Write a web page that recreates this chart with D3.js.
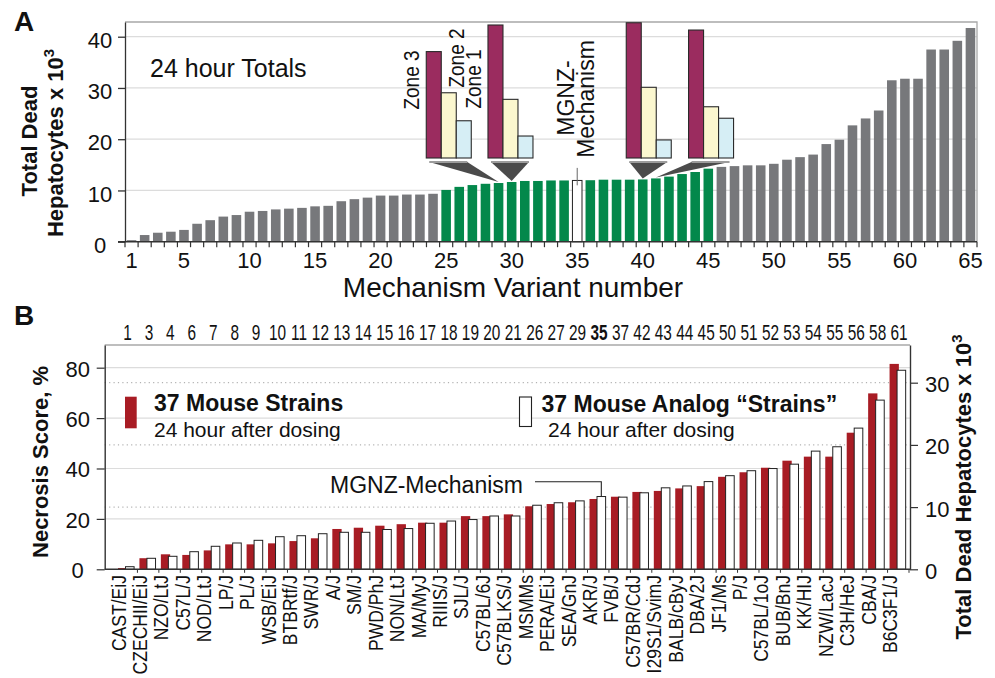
<!DOCTYPE html>
<html><head><meta charset="utf-8">
<script src="https://cdn.jsdelivr.net/npm/d3@7"></script>
<style>
body{margin:0;background:#fff}
svg text{font-family:"Liberation Sans",Arial,Helvetica,sans-serif;fill:#111}
</style>
</head><body>
<svg id="c" width="995" height="678"></svg>
<script>
// ---------- Panel A data ----------
const variantNumbers = d3.range(1, 66);
const variantTotals = [0.3,1.3,1.75,1.95,2.3,3.5,4.2,4.9,5.2,5.85,
  6.0,6.3,6.45,6.6,6.9,7.0,7.9,8.3,8.6,9.0,
  9.0,9.2,9.2,9.35,10.1,10.7,11.05,11.3,11.45,11.65,
  11.85,11.85,11.95,11.95,11.95,12.0,12.1,12.1,12.1,12.15,
  12.35,12.7,13.2,13.6,14.25,14.6,14.75,14.9,14.9,15.2,
  16.0,16.5,17.0,19.05,19.9,22.7,24.05,25.6,31.5,31.8,
  31.8,37.5,37.5,39.2,41.7];
const mechanismRange = [25, 45];
const mgnzVariant = 35;
const mgnzError = [11.0, 14.4];
const xTickLabelsA = [1,5,10,15,20,25,30,35,40,45,50,55,60,65];
const yTicksA = [0,10,20,30,40];

// Zone insets (relative cell-death per zone)
const insetVariants = [29, 30, 40, 41];
const zone3 = [76, 95, 96.6, 91.4];
const zone2 = [46.6, 41.9, 50.5, 36.6];
const zone1 = [26.6, 15.7, 12.9, 28.4];
const zoneNames = ["Zone 3", "Zone 2", "Zone 1"];

// ---------- Panel B data ----------
const strains = ["CAST/EiJ","CZECHII/EiJ","NZO/LtJ","C57L/J","NOD/LtJ","LP/J","PL/J","WSB/EiJ","BTBRtf/J","SWR/J",
  "A/J","SM/J","PWD/PhJ","NON/LtJ","MA/MyJ","RIIIS/J","SJL/J","C57BL/6J","C57BLKS/J","MSMMs",
  "PERA/EiJ","SEA/GnJ","AKR/J","FVB/J","C57BR/CdJ","I29S1/SvimJ","BALB/cByJ","DBA/2J","JF1/Ms","P/J",
  "C57BL/1oJ","BUB/BnJ","KK/HIJ","NZW/LacJ","C3H/HeJ","CBA/J","B6C3F1/J"];
const analogVariants = [1,3,4,6,7,8,9,10,11,12,13,14,15,16,17,18,19,20,21,26,27,29,35,37,42,43,44,45,50,51,52,53,54,55,56,58,61];
const necrosisScore = [0.5,4.4,5.95,5.7,7.5,9.9,9.9,10.3,11.2,12.3,
  16.0,16.5,17.3,17.9,18.5,18.5,21.1,21.1,21.8,25.0,
  25.9,26.6,27.9,28.8,30.7,31.1,32.1,33.0,36.7,38.5,
  40.3,43.1,44.7,44.7,54.2,69.8,81.5];
const analogTotals = [0.42,1.77,2.09,2.83,3.7,4.23,4.66,5.24,5.4,5.72,
  5.95,5.95,6.4,6.55,7.4,7.76,8.0,8.57,8.57,10.3,
  10.7,11.0,11.7,11.6,12.3,13.1,13.4,14.1,15.05,15.85,
  16.2,16.9,19.0,19.7,22.7,27.2,32.0];
const yTicksBLeft = [0,20,40,60,80];
const yTicksBRight = [0,10,20,30];

// ---------- styles ----------
const C = {gray:"#77787b", green:"#03884b", purple:"#9b2c5f", cream:"#fbf7cf", blue:"#d6eef5",
  red:"#a81c24", axis:"#333", grid:"#dcdcdc", frame:"#a8a8a8"};

const svg = d3.select("#c");

// ================= PANEL A =================
const xA = d3.scaleBand().domain(variantNumbers).range([125, 977]).paddingInner(0.27).paddingOuter(0.135);
const yA = d3.scaleLinear().domain([0, 42.87]).range([241.7, 22]);
const A = svg.append("g");

A.append("g").selectAll("line").data(yTicksA.filter(d => d > 0)).join("line")
  .attr("x1", 125).attr("x2", 977).attr("y1", d => yA(d)).attr("y2", d => yA(d))
  .attr("stroke", C.grid).attr("stroke-width", 1.2);
A.append("path").attr("d", `M125,${yA.range()[1]}H977V${yA(0)}`).attr("fill","none").attr("stroke",C.frame).attr("stroke-width",1.3);

const inMech = v => v >= mechanismRange[0] && v <= mechanismRange[1];
A.append("g").selectAll("rect").data(variantNumbers).join("rect")
  .attr("x", d => xA(d)).attr("width", xA.bandwidth())
  .attr("y", (d,i) => yA(variantTotals[i])).attr("height", (d,i) => yA(0) - yA(variantTotals[i]))
  .attr("fill", d => d === mgnzVariant ? "#fff" : (inMech(d) ? C.green : C.gray))
  .attr("stroke", d => d === mgnzVariant ? "#222" : "none").attr("stroke-width", 1);

const cx35 = xA(mgnzVariant) + xA.bandwidth()/2;
A.append("line").attr("x1", cx35).attr("x2", cx35).attr("y1", yA(mgnzError[1])).attr("y2", yA(mgnzError[0]))
  .attr("stroke", "#666").attr("stroke-width", 1);

const yAxisA = d3.axisLeft(yA).tickValues(yTicksA).tickSize(7).tickSizeOuter(0);
const gyA = A.append("g").attr("transform", "translate(125,0)").call(yAxisA);
gyA.select(".domain").attr("stroke", C.axis).attr("stroke-width", 1.3);
gyA.selectAll(".tick line").attr("stroke", C.axis).attr("stroke-width", 1.3);
gyA.selectAll(".tick text").attr("x", -25).attr("dy", null).attr("y", 10.7)
  .attr("text-anchor", "middle").style("font-size", "22px");

const step = xA.step();
A.append("line").attr("x1", 118).attr("x2", 977).attr("y1", yA(0)).attr("y2", yA(0)).attr("stroke", C.axis).attr("stroke-width", 1.4);
A.append("g").selectAll("line").data(d3.range(0, variantNumbers.length + 1)).join("line")
  .attr("x1", k => xA.range()[0] + k*step).attr("x2", k => xA.range()[0] + k*step)
  .attr("y1", yA(0)).attr("y2", yA(0) + 5.5).attr("stroke", C.axis).attr("stroke-width", 1.2);
const xAxisA = d3.axisBottom(xA).tickValues(xTickLabelsA).tickSize(0);
const gxA = A.append("g").attr("transform", `translate(0,${yA(0)})`).call(xAxisA);
gxA.select(".domain").remove();
gxA.selectAll(".tick text").attr("y", 26).attr("dy", null).style("font-size", "22px");

A.append("text").attr("x", 513).attr("y", 297).attr("text-anchor", "middle").style("font-size", "28px").text("Mechanism Variant number");
A.append("text").attr("x", 150).attr("y", 77).style("font-size", "25px").text("24 hour Totals");
A.append("text").attr("x", 14).attr("y", 31).style("font-size", "28px").style("font-weight", "bold").text("A");

A.append("text").attr("transform", "translate(37,141) rotate(-90)").attr("text-anchor", "middle")
  .style("font-size", "22px").style("font-weight", "bold").text("Total Dead");
const ytA2 = A.append("text").attr("transform", "translate(62.5,143) rotate(-90)").attr("text-anchor", "middle")
  .style("font-size", "22px").style("font-weight", "bold");
ytA2.append("tspan").text("Hepatocytes x 10");
ytA2.append("tspan").attr("dy", -9).style("font-size", "15px").text("3");

// insets
const hInset = d3.scaleLinear().domain([0, 100]).range([0, 140]);
const insetBase = 158, insetBarW = 15;
const insetOffset = [-72.3, -23.7, -16.5, 32.7];
const insetData = insetVariants.map((v, i) => ({v, i, vals: [zone3[i], zone2[i], zone1[i]],
  left: xA(v) + xA.bandwidth()/2 + insetOffset[i], tipX: xA(v) + xA.bandwidth()/2, tipY: yA(variantTotals[v-1]) - 1}));
const zoneFill = [C.purple, C.cream, C.blue];
insetData.forEach(d => {
  const g = A.append("g");
  g.append("polygon").attr("points", `${d.left+3},${insetBase+4} ${d.left+41},${insetBase+4} ${d.tipX},${d.tipY}`)
    .attr("fill", "#4b4b4b");
  g.append("line").attr("x1", d.left+3).attr("x2", d.left+41).attr("y1", insetBase+4).attr("y2", insetBase+4)
    .attr("stroke", "#9c9c9c").attr("stroke-width", 2.2);
  g.selectAll("rect").data(d.vals).join("rect")
    .attr("x", (v, j) => d.left + j*insetBarW).attr("width", insetBarW)
    .attr("y", v => insetBase - hInset(v)).attr("height", v => hInset(v))
    .attr("fill", (v, j) => zoneFill[j]).attr("stroke", "#2a2a2a").attr("stroke-width", 1.1);
});
const L0 = insetData[0].left;
const zoneLabelPos = [[L0 - 7.2, 80], [L0 + 37.8, 58], [L0 + 54.8, 79]];
zoneNames.forEach((n, j) => {
  A.append("text").attr("transform", `translate(${zoneLabelPos[j][0]},${zoneLabelPos[j][1]}) rotate(-90) scale(0.95,1.12)`)
    .attr("text-anchor", "middle").style("font-size", "20px").text(n);
});
A.append("text").attr("transform", `translate(${cx35-3},98) rotate(-90)`).attr("text-anchor", "middle").style("font-size", "23px").text("MGNZ-");
A.append("text").attr("transform", `translate(${cx35+17},99) rotate(-90)`).attr("text-anchor", "middle").style("font-size", "23px").text("Mechanism");

// ================= PANEL B =================
const B = svg.append("g");
const xB = d3.scaleBand().domain(d3.range(strains.length)).range([118, 911]).padding(0);
const yL = d3.scaleLinear().domain([0, 89]).range([569.3, 345]);
const yR = d3.scaleLinear().domain([0, 36.06]).range([569.3, 345]);
const x0 = 104.7, x1 = 910;

B.append("g").selectAll("line").data(yTicksBLeft.filter(d => d > 0)).join("line")
  .attr("x1", x0).attr("x2", x1).attr("y1", d => yL(d)).attr("y2", d => yL(d))
  .attr("stroke", C.grid).attr("stroke-width", 1.2);
B.append("g").selectAll("line").data(yTicksBRight.filter(d => d > 0)).join("line")
  .attr("x1", x0).attr("x2", x1).attr("y1", d => yR(d)).attr("y2", d => yR(d))
  .attr("stroke", "#a0a0a0").attr("stroke-width", 1).attr("stroke-dasharray", "1.2,3.2");
B.append("line").attr("x1", x0).attr("x2", x1).attr("y1", 345).attr("y2", 345).attr("stroke", C.frame).attr("stroke-width", 1.3);

B.append("g").selectAll("rect").data(necrosisScore).join("rect")
  .attr("x", (d, i) => xB(i)).attr("width", 9.3)
  .attr("y", d => yL(d)).attr("height", d => yL(0) - yL(d)).attr("fill", C.red);
B.append("g").selectAll("rect").data(analogTotals).join("rect")
  .attr("x", (d, i) => xB(i) + 7.5).attr("width", 8.6)
  .attr("y", d => yR(d)).attr("height", d => yR(0) - yR(d))
  .attr("fill", "#fff").attr("stroke", "#222").attr("stroke-width", 1);

const gyL = B.append("g").attr("transform", `translate(${x0},0)`).call(d3.axisLeft(yL).tickValues(yTicksBLeft).tickSize(8).tickSizeOuter(0));
gyL.select(".domain").attr("stroke", C.axis).attr("stroke-width", 1.4);
gyL.selectAll(".tick line").attr("stroke", C.axis).attr("stroke-width", 1.2);
gyL.selectAll(".tick text").attr("x", -27).attr("dy", null).attr("y", 8.5).attr("text-anchor", "middle").style("font-size", "22px");

const gyR = B.append("g").attr("transform", `translate(${x1},0)`).call(d3.axisRight(yR).tickValues(yTicksBRight).tickSize(8).tickSizeOuter(0));
gyR.select(".domain").attr("stroke", C.axis).attr("stroke-width", 1.4);
gyR.selectAll(".tick line").attr("stroke", C.axis).attr("stroke-width", 1.2);
gyR.selectAll(".tick text").attr("x", 15).attr("dy", null).attr("y", 9).attr("text-anchor", "start").style("font-size", "22px");

B.append("line").attr("x1", x0).attr("x2", x1).attr("y1", yL(0)).attr("y2", yL(0)).attr("stroke", C.axis).attr("stroke-width", 1.4);
B.append("g").selectAll("line").data(d3.range(strains.length)).join("line")
  .attr("x1", i => xB(i) + xB.bandwidth() - 2).attr("x2", i => xB(i) + xB.bandwidth() - 2)
  .attr("y1", yL(0)).attr("y2", yL(0) + 3.5).attr("stroke", C.axis).attr("stroke-width", 1);

B.append("g").selectAll("text").data(analogVariants).join("text")
  .attr("transform", (d, i) => `translate(${xB(i) + 9.5},339.5) scale(0.7,1)`)
  .attr("text-anchor", "middle").style("font-size", "22px")
  .style("font-weight", d => d === mgnzVariant ? "bold" : "normal").text(d => d);

B.append("g").selectAll("text").data(strains).join("text")
  .attr("transform", (d, i) => `translate(${xB(i) + 7.5},575) rotate(-90) scale(0.9,1)`)
  .attr("text-anchor", "end").style("font-size", "19.5px").text(d => d);

B.append("text").attr("x", 14).attr("y", 325).style("font-size", "28px").style("font-weight", "bold").text("B");
B.append("text").attr("transform", "translate(48,462) rotate(-90)").attr("text-anchor", "middle")
  .style("font-size", "22px").style("font-weight", "bold").text("Necrosis Score, %");
const rt = B.append("text").attr("transform", "translate(971,487) rotate(-90)").attr("text-anchor", "middle")
  .style("font-size", "22px").style("font-weight", "bold");
rt.append("tspan").text("Total Dead Hepatocytes x 10");
rt.append("tspan").attr("dy", -9).style("font-size", "15px").text("3");

B.append("rect").attr("x", 125).attr("y", 396.7).attr("width", 11.7).attr("height", 31.6).attr("fill", C.red);
B.append("text").attr("x", 154).attr("y", 410.5).style("font-size", "23px").style("font-weight", "bold").text("37 Mouse Strains");
B.append("text").attr("x", 154).attr("y", 436.7).style("font-size", "21px").text("24 hour after dosing");
B.append("rect").attr("x", 519.5).attr("y", 397).attr("width", 12).attr("height", 29.5).attr("fill", "#fff").attr("stroke", "#222").attr("stroke-width", 1.1);
B.append("text").attr("x", 541.5).attr("y", 411.5).style("font-size", "23px").style("font-weight", "bold").text("37 Mouse Analog “Strains”");
B.append("text").attr("x", 548).attr("y", 437.3).style("font-size", "21px").text("24 hour after dosing");

const iM = analogVariants.indexOf(mgnzVariant);
const mx = xB(iM) + 7.5 + 4.3;
B.append("text").attr("x", 330).attr("y", 492.7).style("font-size", "23px").text("MGNZ-Mechanism");
B.append("path").attr("d", `M535,481.7H${mx}V${yR(analogTotals[iM]) - 0.5}`).attr("fill", "none").attr("stroke", "#222").attr("stroke-width", 1.1);
</script>
</body></html>
